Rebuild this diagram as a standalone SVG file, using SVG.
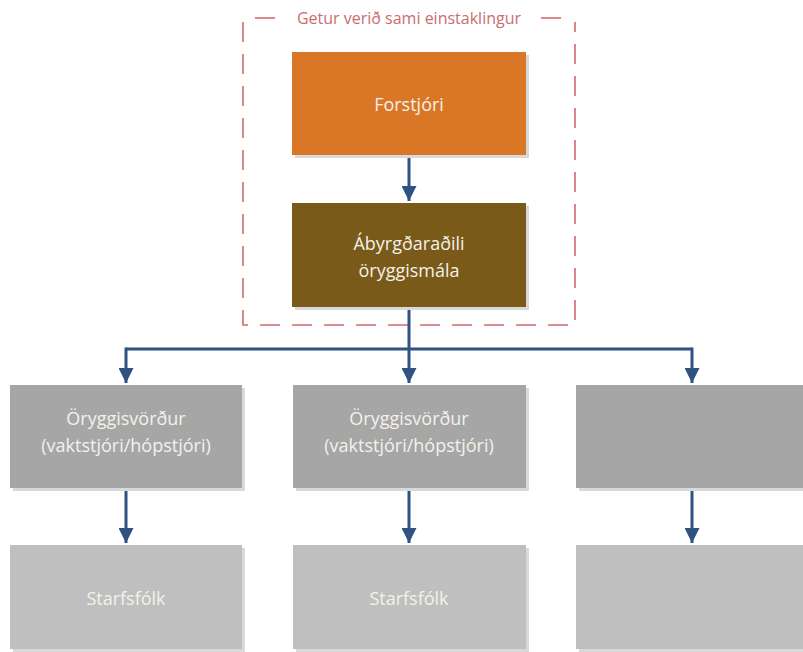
<svg xmlns="http://www.w3.org/2000/svg" width="803" height="652" viewBox="0 0 803 652">
<defs>
<style>
.box{stroke:none}
.sh{fill:#d9d9d9}
.lbl{font-family:"Open Sans","Liberation Sans",Arial,sans-serif;font-size:18px;fill:#f4f1ea;text-anchor:middle;dominant-baseline:central}
.con{fill:none;stroke:#2f5283;stroke-width:3}
.dash{fill:none;stroke:#d46a6a;stroke-width:1.6;stroke-dasharray:20 12}
</style>
<marker id="ah" viewBox="0 0 10 10" refX="10" refY="5" markerWidth="5" markerHeight="5" markerUnits="strokeWidth" orient="auto">
<path d="M0,0 L10,5 L0,10 z" fill="#2f5283"/>
</marker>
</defs>
<rect width="803" height="652" fill="#ffffff"/>

<g id="group-frame">
<path class="dash" d="M255,18 L277,18"/>
<path class="dash" d="M541,18 L563,18"/>
<path class="dash" d="M243,22 L243,325 L575,325 L575,22"/>
<text x="409" y="18" style="font-family:'Open Sans','Liberation Sans',Arial,sans-serif;font-size:16px;fill:#c86e6e;text-anchor:middle;dominant-baseline:central">Getur verið sami einstaklingur</text>
</g>

<g id="connectors">
<path class="con" d="M409,155 L409,201" marker-end="url(#ah)"/>
<path class="con" d="M409,307 L409,383" marker-end="url(#ah)"/>
<path class="con" d="M126,349 L692,349"/>
<path class="con" d="M126,347.5 L126,383" marker-end="url(#ah)"/>
<path class="con" d="M692,347.5 L692,383" marker-end="url(#ah)"/>
<path class="con" d="M126,488 L126,543" marker-end="url(#ah)"/>
<path class="con" d="M409,488 L409,543" marker-end="url(#ah)"/>
<path class="con" d="M692,488 L692,543" marker-end="url(#ah)"/>
</g>

<g id="n-forstjori">
<rect class="sh" x="295" y="55" width="234" height="103"/>
<rect class="box" x="292" y="52" width="234" height="103" fill="#d97727"/>
<text class="lbl" x="409" y="104">Forstjóri</text>
</g>

<g id="n-abyrgdaradili">
<rect class="sh" x="295" y="206" width="234" height="104"/>
<rect class="box" x="292" y="203" width="234" height="104" fill="#7a5a18"/>
<text class="lbl" x="409" y="243">Ábyrgðaraðili</text>
<text class="lbl" x="409" y="270">öryggismála</text>
</g>

<g id="n-vordur1">
<rect class="sh" x="13" y="388" width="232" height="103"/>
<rect class="box" x="10" y="385" width="232" height="103" fill="#a6a6a6"/>
<text class="lbl" x="126" y="418">Öryggisvörður</text>
<text class="lbl" x="126" y="445">(vaktstjóri/hópstjóri)</text>
</g>

<g id="n-vordur2">
<rect class="sh" x="296" y="388" width="233" height="103"/>
<rect class="box" x="293" y="385" width="233" height="103" fill="#a6a6a6"/>
<text class="lbl" x="409" y="418">Öryggisvörður</text>
<text class="lbl" x="409" y="445">(vaktstjóri/hópstjóri)</text>
</g>

<g id="n-vordur3">
<rect class="sh" x="579" y="388" width="230" height="103"/>
<rect class="box" x="576" y="385" width="230" height="103" fill="#a6a6a6"/>
</g>

<g id="n-starfsfolk1">
<rect class="sh" x="13" y="548" width="232" height="104"/>
<rect class="box" x="10" y="545" width="232" height="104" fill="#bfbfbf"/>
<text class="lbl" x="126" y="598">Starfsfólk</text>
</g>

<g id="n-starfsfolk2">
<rect class="sh" x="296" y="548" width="233" height="104"/>
<rect class="box" x="293" y="545" width="233" height="104" fill="#bfbfbf"/>
<text class="lbl" x="409" y="598">Starfsfólk</text>
</g>

<g id="n-starfsfolk3">
<rect class="sh" x="579" y="548" width="230" height="104"/>
<rect class="box" x="576" y="545" width="230" height="104" fill="#bfbfbf"/>
</g>
</svg>
